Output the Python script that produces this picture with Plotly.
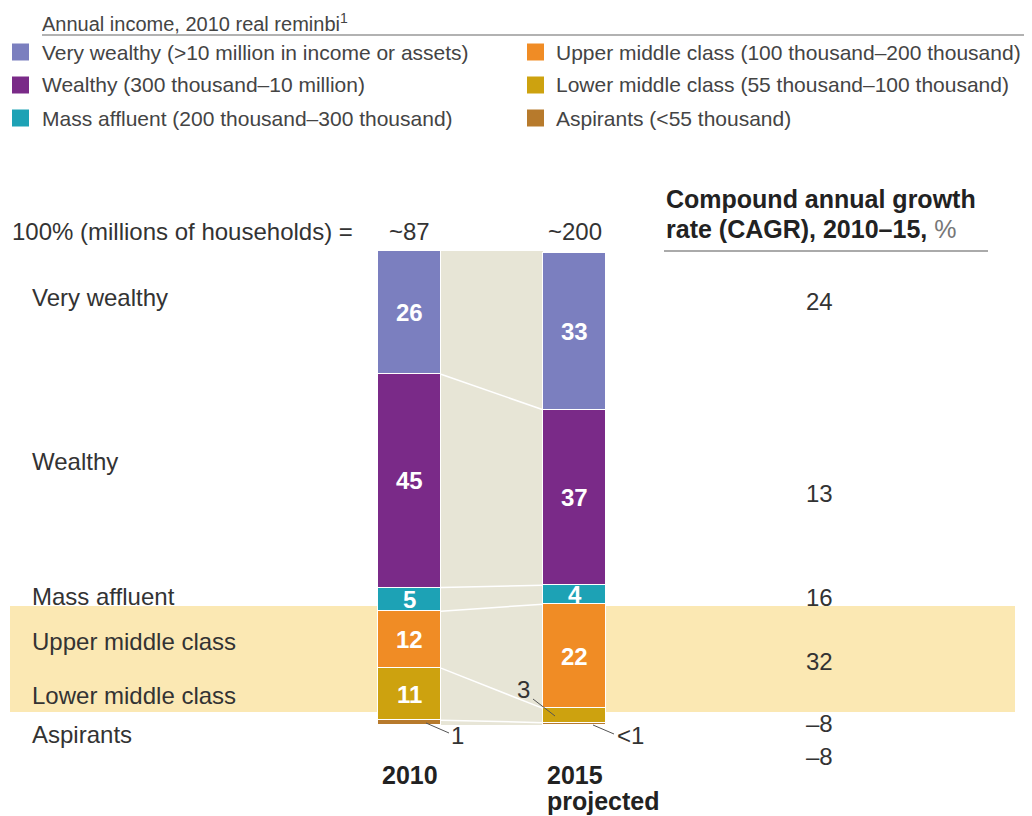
import plotly.graph_objects as go

# ---------------- data ----------------
categories = ["2010", "2015"]
segments = ["Aspirants", "Lower middle class", "Upper middle class",
            "Mass affluent", "Wealthy", "Very wealthy"]
share_2010 = [1, 11, 12, 5, 45, 26]
share_2015 = [0.5, 3, 22, 4, 37, 33]
text_2010 = ["1", "11", "12", "5", "45", "26"]
text_2015 = ["<1", "3", "22", "4", "37", "33"]
cagr = ["–8", "–8", "32", "16", "13", "24"]
totals = ["~87", "~200"]
cat_labels = [["2010"], ["2015", "projected"]]
legend_labels = [
    "Aspirants (<55 thousand)",
    "Lower middle class (55 thousand–100 thousand)",
    "Upper middle class (100 thousand–200 thousand)",
    "Mass affluent (200 thousand–300 thousand)",
    "Wealthy (300 thousand–10 million)",
    "Very wealthy (>10 million in income or assets)",
]
colors = ["#b77a2c", "#cda20f", "#f08c25", "#1da2b5", "#7a2a88", "#7b7fbf"]

# ---------------- layout geometry (screen pixels) ----------------
OFF = 8                       # page body margin
SW, SH = 1032, 816            # screen size
W, H = SW - OFF, SH - OFF     # figure size
X0_PX, DX_PX = 409.5, 165.0   # centre of first bar, spacing between bars
BAR_PX = 63.0
Y0_PX, PX_PER_UNIT = 725.0, 4.74
PAD = 2                       # annotation inner padding


def px_x(p):
    return (p - OFF) / W


def px_y(p):
    return 1 - (p - OFF) / H


xr = [(OFF - X0_PX) / DX_PX, (SW - X0_PX) / DX_PX]
yr = [(Y0_PX - SH) / PX_PER_UNIT, (Y0_PX - OFF) / PX_PER_UNIT]
bw = BAR_PX / DX_PX

FONT = "Arial, Liberation Sans, sans-serif"
TXT = "#333333"


def esc(s):
    return s.replace("<", "&lt;").replace(">", "&gt;")


def note(x, y, text, size, color=TXT, xanchor="center", xref="paper", yref="paper",
         yanchor="middle"):
    return dict(x=x, y=y, xref=xref, yref=yref, text=text, showarrow=False,
                xanchor=xanchor, yanchor=yanchor,
                font=dict(family=FONT, size=size, color=color))


fig = go.Figure()
for i, seg in enumerate(segments):
    fig.add_trace(go.Bar(
        x=[0, 1],
        y=[share_2010[i], share_2015[i]],
        width=bw,
        marker=dict(color=colors[i], line=dict(color="white", width=1)),
        name=seg,
        textposition="none",
        hoverinfo="name+y",
    ))

shapes = []
annotations = []

# highlight band (upper middle class) and grey connector band
shapes.append(dict(type="rect", xref="paper", yref="paper",
                   x0=px_x(10), x1=px_x(1015), y0=px_y(712), y1=px_y(606),
                   fillcolor="#fbe8b3", line=dict(width=0), layer="below"))
shapes.append(dict(type="rect", xref="x", yref="y",
                   x0=bw / 2, x1=1 - bw / 2, y0=0, y1=100,
                   fillcolor="#e7e5d6", line=dict(width=0), layer="below"))

# connector lines between segment boundaries
c1 = c2 = 0
for i in range(len(segments) - 1):
    c1 += share_2010[i]
    c2 += share_2015[i]
    shapes.append(dict(type="line", xref="x", yref="y",
                       x0=bw / 2, x1=1 - bw / 2, y0=c1, y1=c2,
                       line=dict(color="white", width=1.5)))

# bar value labels
for col, (vals, texts) in enumerate([(share_2010, text_2010), (share_2015, text_2015)]):
    cum = 0
    for v, t in zip(vals, texts):
        if v >= 4:
            annotations.append(note(col, cum + v / 2, "<b>%s</b>" % t, 24, "white",
                                    xref="x", yref="y"))
        cum += v

# small-value call-outs
callouts = [  # (text, text px x, text px y, line from px, line to px)
    (text_2010[0], 457, 735, (426, 723), (449, 733)),
    (text_2015[1], 523, 689, (533, 699), (555, 716)),
    (text_2015[0], 630, 735, (593, 725), (614, 734)),
]
for t, tx, ty, (lx0, ly0), (lx1, ly1) in callouts:
    annotations.append(note(px_x(tx), px_y(ty), esc(t), 24))
    shapes.append(dict(type="line", xref="paper", yref="paper",
                       x0=px_x(lx0), y0=px_y(ly0), x1=px_x(lx1), y1=px_y(ly1),
                       line=dict(color="#555555", width=1)))

# left row labels and right CAGR values
row_label_y = [734, 695, 641, 596, 461, 297]
cagr_y = [756, 723, 661, 597, 493, 301]
for seg, yl, c, yc in zip(segments, row_label_y, cagr, cagr_y):
    annotations.append(note(px_x(32 - PAD), px_y(yl), seg, 24, xanchor="left"))
    annotations.append(note(px_x(819), px_y(yc), c, 24))

# totals header
annotations.append(note(px_x(12 - PAD), px_y(231), "100% (millions of households) =", 24,
                        xanchor="left"))
for col, t in enumerate(totals):
    annotations.append(note(col, px_y(231), t, 24, xref="x"))

# category labels under bars
for col, lines in enumerate(cat_labels):
    for k, t in enumerate(lines):
        annotations.append(note(col - bw / 2 + 0.01, px_y(775 + 26 * k), "<b>%s</b>" % t, 25,
                                "#222222", xanchor="left", xref="x"))

# CAGR header
cagr_head = ["<b>Compound annual growth</b>",
             "<b>rate (CAGR), 2010–15,</b> <span style='color:#777777'>%</span>"]
for k, t in enumerate(cagr_head):
    annotations.append(note(px_x(666 - PAD), px_y(199 + 30 * k), t, 25, "#222222",
                            xanchor="left"))
shapes.append(dict(type="line", xref="paper", yref="paper",
                   x0=px_x(664), x1=px_x(988), y0=px_y(251), y1=px_y(251),
                   line=dict(color="#aaaaaa", width=2)))

# legend block
annotations.append(note(px_x(42 - PAD), px_y(OFF), "Annual income, 2010 real reminbi<sup>1</sup>",
                        20, "#444444", xanchor="left", yanchor="top"))
shapes.append(dict(type="line", xref="paper", yref="paper",
                   x0=px_x(42), x1=px_x(1032), y0=px_y(35), y1=px_y(35),
                   line=dict(color="#999999", width=1.5)))
legend_pos = [  # (square left px, text left px, centre y px)
    (527, 556, 118), (527, 556, 85), (527, 556, 52),
    (12, 42, 118), (12, 42, 85), (12, 42, 52),
]
for lab, col, (sx, tx, cy) in zip(legend_labels, colors, legend_pos):
    shapes.append(dict(type="rect", xref="paper", yref="paper",
                       x0=px_x(sx), x1=px_x(sx + 17), y0=px_y(cy + 8.5), y1=px_y(cy - 8.5),
                       fillcolor=col, line=dict(width=0)))
    annotations.append(note(px_x(tx - PAD), px_y(cy), esc(lab), 21, "#444444",
                            xanchor="left"))

fig.update_layout(
    width=W, height=H, autosize=False,
    margin=dict(l=0, r=0, t=0, b=0),
    paper_bgcolor="white", plot_bgcolor="rgba(0,0,0,0)",
    barmode="stack", bargap=0, showlegend=False,
    xaxis=dict(range=xr, visible=False, fixedrange=True),
    yaxis=dict(range=yr, visible=False, fixedrange=True),
    shapes=shapes, annotations=annotations,
    font=dict(family=FONT),
)

fig.write_html("out.html")
